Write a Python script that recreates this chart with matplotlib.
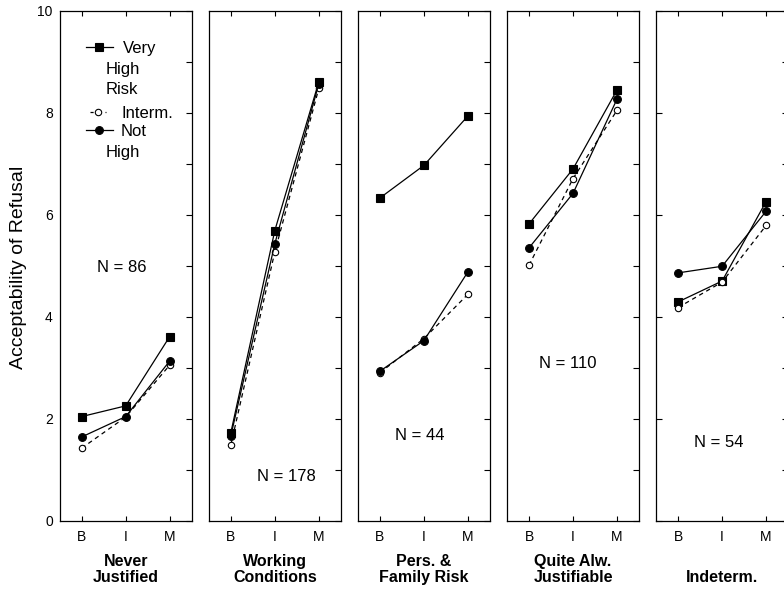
import matplotlib
matplotlib.use("Agg")
import matplotlib.pyplot as plt
from matplotlib.lines import Line2D

# rating levels on the x axis of every panel
levels = ["B", "I", "M"]

# one panel per justification type
panel_titles = ["Never\nJustified", "Working\nConditions", "Pers. &\nFamily Risk",
                "Quite Alw.\nJustifiable", "Indeterm."]
n_sizes = [86, 178, 44, 110, 54]

# mean acceptability of refusal, per panel, at B / I / M
very_high = [
    [2.04, 2.25, 3.61],
    [1.72, 5.69, 8.61],
    [6.33, 6.97, 7.94],
    [5.82, 6.90, 8.45],
    [4.29, 4.70, 6.26],
]
interm = [
    [1.42, 2.03, 3.05],
    [1.48, 5.27, 8.48],
    [2.90, 3.57, 4.44],
    [5.01, 6.71, 8.05],
    [4.18, 4.68, 5.79],
]
not_high = [
    [1.64, 2.04, 3.13],
    [1.66, 5.43, 8.57],
    [2.93, 3.53, 4.88],
    [5.35, 6.42, 8.27],
    [4.86, 4.99, 6.07],
]

# where the "N = .." note sits inside each panel (data coords)
n_pos = [(0.91, 4.96), (1.27, 0.87), (0.91, 1.66), (0.89, 3.09), (0.93, 1.54)]

SERIES = [
    # name lines, values, marker, face, linestyle, marker size
    (["Very", "High", "Risk"], very_high, "s", "black", "-", 5.5),
    (["Interm."], interm, "o", "white", (0, (3.5, 3)), 4.6),
    (["Not", "High"], not_high, "o", "black", "-", 5.6),
]

plt.rcParams.update({
    "font.family": ["Liberation Sans", "DejaVu Sans"],
    "axes.linewidth": 0.9,
    "axes.edgecolor": "black",
})

W, H = 784, 600
fig = plt.figure(figsize=(W / 100, H / 100), dpi=100)

x = list(range(len(levels)))
for i, title in enumerate(panel_titles):
    left = 59.7 + i * 149.1
    ax = fig.add_axes([left / W, (H - 520.5) / H, 132 / W, 509.5 / H])
    for (name, vals, mk, face, ls, ms) in SERIES:
        ax.plot(x, vals[i], color="black", lw=0.9, linestyle=ls, marker=mk,
                ms=ms, mfc=face, mec="black", mew=0.8, zorder=3)

    ax.set_xlim(-0.5, 2.5)
    ax.set_ylim(0, 10)
    ax.set_xticks(x)
    ax.set_xticklabels(levels)
    ax.set_yticks(range(0, 11, 2))
    ax.set_yticks(range(1, 10, 2), minor=True)
    ax.tick_params(axis="x", direction="in", top=True, bottom=True,
                   length=3.5, width=0.8, pad=6.5, labelsize=10)
    ax.tick_params(axis="y", which="both", direction="in", left=False,
                   right=True, length=4, width=0.8, pad=5, labelsize=10,
                   labelleft=(i == 0))
    if i == len(panel_titles) - 1:
        ax.tick_params(axis="y", which="major", left=True)

    nx, ny = n_pos[i]
    ax.text(nx, ny, f"N = {n_sizes[i]}", ha="center", va="center", fontsize=12)

    ax.text(0.5, -0.1275, title, transform=ax.transAxes, ha="center",
            va="bottom", fontsize=11.5, fontweight="bold", linespacing=1.15)

    if i == 0:
        # hand-built key so wrapped names tuck under the symbol
        rows = [(0.930, 0.20, 0.404, 0.298, 0.48, "-"),
                (0.802, 0.23, 0.35, 0.29, 0.465, (0, (2.5, 3.5))),
                (0.767, 0.20, 0.404, 0.298, 0.465, "-")]
        step = 0.04
        for (name, _, mk, face, _, ms), (ry, x0, x1, xm, tx, kls) in zip(SERIES, rows):
            ax.add_line(Line2D([x0, x1], [ry, ry], transform=ax.transAxes,
                               color="black", lw=0.9, linestyle=kls))
            ax.add_line(Line2D([xm], [ry], transform=ax.transAxes, marker=mk,
                               ms=ms, mfc=face, mec="black", mew=0.8))
            for k, word in enumerate(name):
                ax.text(tx if k == 0 else 0.35, ry - 0.004 - k * step, word,
                        transform=ax.transAxes, ha="left", va="center",
                        fontsize=12)

fig.text(0.024, 0.555, "Acceptability of Refusal", rotation=90,
         ha="center", va="center", fontsize=14)

fig.savefig("out.png", dpi=100)
